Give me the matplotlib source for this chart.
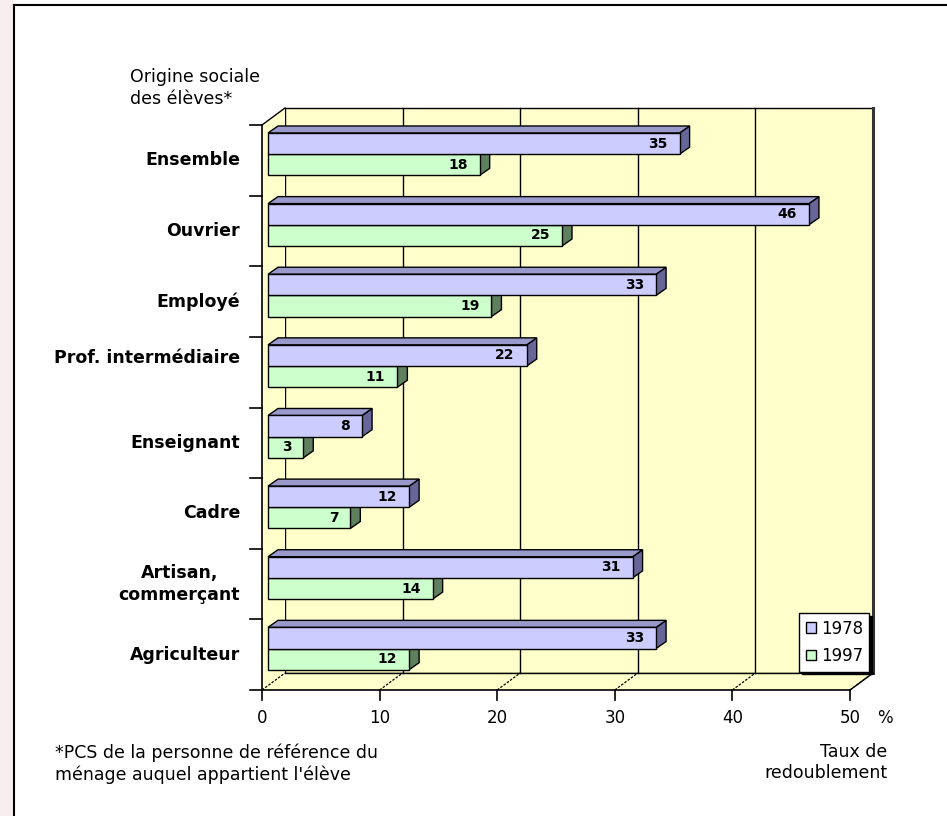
import matplotlib.pyplot as plt
from matplotlib.patches import Polygon, Patch, Rectangle
from matplotlib.lines import Line2D

# Data: taux de redoublement (%) by origine sociale
categories = ['Ensemble', 'Ouvrier', 'Employé', 'Prof. intermédiaire',
              'Enseignant', 'Cadre', 'Artisan,\ncommerçant', 'Agriculteur']
taux_1978 = [35, 46, 33, 22, 8, 12, 31, 33]
taux_1997 = [18, 25, 19, 11, 3, 7, 14, 12]
years = ['1978', '1997']
xticks = [0, 10, 20, 30, 40, 50]

W, H = 947, 816
# pixel frame of the front plane of the 3D box
X0, X1 = 262, 850
Y0, Y1 = 125, 690
n = len(categories)
xmax = xticks[-1]
sx = (X1 - X0) / xmax
sy = (Y1 - Y0) / n
DX, DY = 23 / sx, -17 / sy      # depth of the whole box
BDX, BDY = 10 / sx, -7 / sy     # depth of one bar
D0 = 6 / 23                     # bars front face depth (fraction of box)
bar_h = 0.3

WALL = '#FFFFCC'
colors_front = ['#CCCCFF', '#CCFFCC']
colors_top = ['#9999CC', '#99BB99']
colors_side = ['#666699', '#5E805E']


def px(x, y):
    """pixel position -> data position (used only for text layout)"""
    return (x - X0) / sx, (y - Y0) / sy


fig = plt.figure(figsize=(W / 100, H / 100), dpi=100)
ax = fig.add_axes([0, 0, 1, 1])
ax.set_xlim(-X0 / sx, (W - X0) / sx)
ax.set_ylim((H - Y0) / sy, -Y0 / sy)
ax.set_axis_off()

# page frame
fig.patches.append(Rectangle((0, 0), 14 / W, 1, transform=fig.transFigure,
                             facecolor='#F8EEF0', edgecolor='none', zorder=0))
fig.lines.append(Line2D([14 / W, 14 / W], [0, 1 - 5 / H], transform=fig.transFigure,
                        color='black', lw=1.5))
fig.lines.append(Line2D([14 / W, 1], [1 - 5 / H, 1 - 5 / H], transform=fig.transFigure,
                        color='black', lw=1.5))

# back wall
ax.add_patch(Polygon([(DX, DY), (xmax + DX, DY), (xmax + DX, n + DY), (DX, n + DY)],
                     closed=True, facecolor=WALL, edgecolor='black', lw=1, zorder=1))
ax.plot([xmax + DX, xmax + DX], [DY, n + DY], color='#333333', lw=2.2, zorder=1.5)
for v in xticks[1:-1]:
    ax.plot([v + DX, v + DX], [DY, n + DY], color='black', lw=1, zorder=1.2)

# left wall
ax.add_patch(Polygon([(0, 0), (DX, DY), (DX, n + DY), (0, n)], closed=True,
                     facecolor=WALL, edgecolor='none', zorder=1))
ax.plot([0, DX], [0, DY], color='black', lw=1, zorder=1.5)
ax.plot([0, 0], [0, n], color='black', lw=1.2, zorder=1.5)

# floor
ax.add_patch(Polygon([(0, n), (xmax, n), (xmax + DX, n + DY), (DX, n + DY)], closed=True,
                     facecolor=WALL, edgecolor='none', zorder=1))
ax.plot([0, xmax], [n, n], color='black', lw=1.2, zorder=1.5)
ax.plot([xmax, xmax + DX], [n, n + DY], color='black', lw=1, zorder=1.5)
ax.plot([DX, xmax + DX], [n + DY, n + DY], color='black', lw=1, zorder=1.5)
for v in xticks:
    ax.plot([v, v + DX], [n, n + DY], color='black', lw=0.9, ls=(0, (2, 1.2)), zorder=1.5)
    ax.plot([v, v], [n, n + 10 / sy], color='black', lw=1.2, zorder=1.5)
    ax.text(v, n + 28 / sy, str(v), ha='center', va='center', fontsize=12)
ax.text(*px(885, 718), '%', ha='center', va='center', fontsize=12)

# category ticks on the left
for c in range(n + 1):
    ax.plot([-12 / sx, 0], [c, c], color='black', lw=1.2, zorder=1.5)

# bars
left = D0 * DX
for c in range(n):
    for s, vals in ((1, taux_1997), (0, taux_1978)):
        v = vals[c]
        yc = c + 0.263 + s * bar_h
        ytop, ybot = yc - bar_h / 2, yc + bar_h / 2
        xe = left + v
        z = 3 if s == 1 else 4
        ax.barh(yc, v, height=bar_h, left=left, color=colors_front[s],
                edgecolor='black', lw=1, zorder=z + 0.2)
        ax.add_patch(Polygon([(xe, ytop), (xe + BDX, ytop + BDY), (xe + BDX, ybot + BDY), (xe, ybot)],
                             closed=True, facecolor=colors_side[s], edgecolor='black',
                             lw=1, zorder=z))
        if s == 0:
            ax.add_patch(Polygon([(left, ytop), (left + BDX, ytop + BDY), (xe + BDX, ytop + BDY), (xe, ytop)],
                                 closed=True, facecolor=colors_top[s], edgecolor='black',
                                 lw=1, zorder=z))
        ax.text(xe - 12 / sx, yc, str(v), ha='right', va='center', fontsize=10,
                fontweight='bold', zorder=6)

# category labels
label_offsets = [0.5, 0.5, 0.5, 0.3, 0.5, 0.5, 0.5, 0.5]
for c, (lab, off) in enumerate(zip(categories, label_offsets)):
    ax.text(px(240, 0)[0], c + off, lab, ha='right', va='center', fontsize=12.5,
            fontweight='bold', multialignment='center', linespacing=1.3)

# titles and notes
ax.text(*px(130, 68), 'Origine sociale\ndes élèves*', ha='left', va='top', fontsize=12.5,
        linespacing=1.25)
ax.text(*px(55, 743), "*PCS de la personne de référence du\nménage auquel appartient l'élève",
        ha='left', va='top', fontsize=12.5, linespacing=1.25)
ax.text(*px(887, 743), 'Taux de\nredoublement', ha='right', va='top', fontsize=12.5,
        multialignment='right', linespacing=1.25)

# legend
handles = [Patch(facecolor=colors_front[i], edgecolor='black', lw=1) for i in range(2)]
leg = ax.legend(handles, years, loc='upper left', bbox_to_anchor=(799 / W, 1 - 613 / H),
                bbox_transform=fig.transFigure, fontsize=12, frameon=True, fancybox=False,
                edgecolor='black', framealpha=1, handlelength=0.6, handleheight=0.6,
                handletextpad=0.3, labelspacing=0.55, borderpad=0.4, borderaxespad=0,
                shadow={'color': 'black', 'alpha': 1})
leg.get_frame().set_linewidth(1)
leg.set_zorder(10)

fig.savefig('out.png', dpi=100)
